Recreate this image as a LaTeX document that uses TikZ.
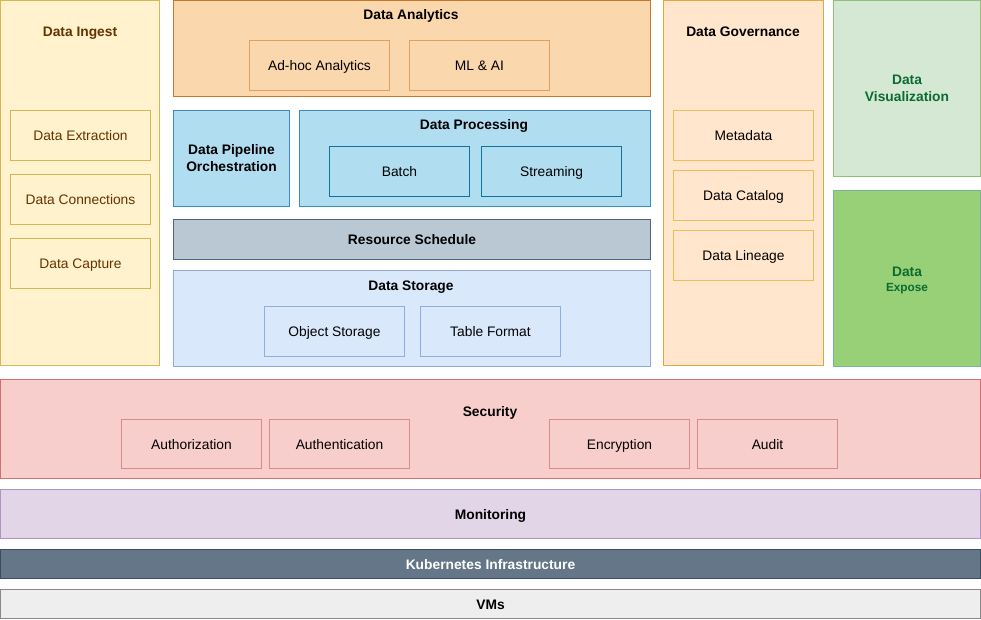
\documentclass[tikz,border=0pt]{standalone}
\usepackage{fontspec}
\setmainfont{Liberation Sans}
\newcommand{\myfs}{\fontsize{13.8}{17}\selectfont}
\newcommand{\mysmall}{\fontsize{11.8}{14}\selectfont}
\definecolor{ingF}{HTML}{FFF2CC}\definecolor{ingD}{HTML}{D6B656}\definecolor{ingT}{HTML}{663300}
\definecolor{anaF}{HTML}{FAD7AC}\definecolor{anaD}{HTML}{C9782F}\definecolor{anaI}{HTML}{E0A060}
\definecolor{proF}{HTML}{B1DDF0}\definecolor{proD}{HTML}{3A8DB8}\definecolor{proI}{HTML}{10739E}
\definecolor{resF}{HTML}{BAC8D3}\definecolor{resD}{HTML}{4F6578}
\definecolor{stoF}{HTML}{DAE8FC}\definecolor{stoD}{HTML}{8FAAD3}\definecolor{stoI}{HTML}{8EAEE0}
\definecolor{govF}{HTML}{FFE6CC}\definecolor{govD}{HTML}{E0A840}\definecolor{govI}{HTML}{EDBE57}
\definecolor{visF}{HTML}{D5E8D4}\definecolor{visD}{HTML}{92C07A}\definecolor{visT}{HTML}{0B6B30}
\definecolor{expF}{HTML}{97D077}\definecolor{expD}{HTML}{7DB39A}
\definecolor{secF}{HTML}{F8CECC}\definecolor{secD}{HTML}{D07070}\definecolor{secI}{HTML}{D88A88}
\definecolor{monF}{HTML}{E1D5E7}\definecolor{monD}{HTML}{B093C0}
\definecolor{kubF}{HTML}{647687}\definecolor{kubD}{HTML}{3A4D5E}
\definecolor{vmF}{HTML}{EEEEEE}\definecolor{vmD}{HTML}{8A8A8A}
\tikzset{
  box/.style={draw, line width=1pt, anchor=north west, inner sep=0pt, outer sep=0pt, font=\myfs, align=center, text height=10pt, text depth=0pt},
  ttl/.style={inner sep=0pt, font=\myfs\bfseries, align=center, text height=10pt, text depth=0pt},
  twolines/.style={text height=27pt, text depth=0pt},
}
\begin{document}
\begin{tikzpicture}[x=1pt,y=-1pt]
\useasboundingbox[fill=white] (0,0) rectangle (981,620);
% Data Ingest
\node[box, fill=ingF, draw=ingD, minimum width=159, minimum height=365] (ingest) at (0.5,0.5) {};
\node[ttl, text=ingT] (ingestT) at (80,32) {Data Ingest};
\node[box, fill=ingF, draw=ingD, text=ingT, minimum width=140, minimum height=50] (extr) at (10.5,110.5) {Data Extraction};
\node[box, fill=ingF, draw=ingD, text=ingT, minimum width=140, minimum height=50] (conn) at (10.5,174.5) {Data Connections};
\node[box, fill=ingF, draw=ingD, text=ingT, minimum width=140, minimum height=50] (capt) at (10.5,238.5) {Data Capture};
% Data Analytics
\node[box, fill=anaF, draw=anaD, minimum width=477, minimum height=96] (ana) at (173.5,0.5) {};
\node[ttl] (anaT) at (411,15) {Data Analytics};
\node[box, fill=anaF, draw=anaI, minimum width=140, minimum height=50] (adhoc) at (249.5,40.5) {Ad-hoc Analytics};
\node[box, fill=anaF, draw=anaI, minimum width=140, minimum height=50] (ml) at (409.5,40.5) {ML \& AI};
% Pipeline orchestration
\node[box, twolines, fill=proF, draw=proD, minimum width=116, minimum height=96, font=\myfs\bfseries] (pipe) at (173.5,110.5) {Data Pipeline\\Orchestration};
% Data processing
\node[box, fill=proF, draw=proD, minimum width=351, minimum height=96] (proc) at (299.5,110.5) {};
\node[ttl] (procT) at (474,125) {Data Processing};
\node[box, fill=proF, draw=proI, minimum width=140, minimum height=50] (batch) at (329.5,146.5) {Batch};
\node[box, fill=proF, draw=proI, minimum width=140, minimum height=50] (stream) at (481.5,146.5) {Streaming};
% Resource schedule
\node[box, fill=resF, draw=resD, minimum width=477, minimum height=40, font=\myfs\bfseries] (res) at (173.5,219.5) {Resource Schedule};
% Data storage
\node[box, fill=stoF, draw=stoD, minimum width=477, minimum height=96] (sto) at (173.5,270.5) {};
\node[ttl] (stoT) at (411,285) {Data Storage};
\node[box, fill=stoF, draw=stoI, minimum width=140, minimum height=50] (obj) at (264.5,306.5) {Object Storage};
\node[box, fill=stoF, draw=stoI, minimum width=140, minimum height=50] (tab) at (420.5,306.5) {Table Format};
% Governance
\node[box, fill=govF, draw=govD, minimum width=160, minimum height=365] (gov) at (663.5,0.5) {};
\node[ttl] (govT) at (743,32) {Data Governance};
\node[box, fill=govF, draw=govI, minimum width=140, minimum height=50] (meta) at (673.5,110.5) {Metadata};
\node[box, fill=govF, draw=govI, minimum width=140, minimum height=50] (cat) at (673.5,170.5) {Data Catalog};
\node[box, fill=govF, draw=govI, minimum width=140, minimum height=50] (lin) at (673.5,230.5) {Data Lineage};
% Visualization / Expose
\node[box, twolines, fill=visF, draw=visD, minimum width=147, minimum height=176, text=visT, font=\myfs\bfseries] (vis) at (833.5,0.5) {Data\\Visualization};
\node[box, text height=25pt, text depth=0pt, fill=expF, draw=expD, minimum width=147, minimum height=176, text=visT, font=\myfs\bfseries] (exp) at (833.5,190.5) {Data\\[-2pt]{\mysmall Expose}};
% Security
\node[box, fill=secF, draw=secD, minimum width=980, minimum height=99] (sec) at (0.5,379.5) {};
\node[ttl] (secT) at (490,411) {Security};
\node[box, fill=secF, draw=secI, minimum width=140, minimum height=49] (authz) at (121.5,419.5) {Authorization};
\node[box, fill=secF, draw=secI, minimum width=140, minimum height=49] (authn) at (269.5,419.5) {Authentication};
\node[box, fill=secF, draw=secI, minimum width=140, minimum height=49] (enc) at (549.5,419.5) {Encryption};
\node[box, fill=secF, draw=secI, minimum width=140, minimum height=49] (aud) at (697.5,419.5) {Audit};
% Monitoring, Kubernetes, VMs
\node[box, fill=monF, draw=monD, minimum width=980, minimum height=49, font=\myfs\bfseries] (mon) at (0.5,489.5) {Monitoring};
\node[box, fill=kubF, draw=kubD, minimum width=980, minimum height=29, text=white, font=\myfs\bfseries] (kub) at (0.5,549.5) {Kubernetes Infrastructure};
\node[box, fill=vmF, draw=vmD, minimum width=980, minimum height=29, font=\myfs\bfseries] (vm) at (0.5,589.5) {VMs};
\end{tikzpicture}
\end{document}
